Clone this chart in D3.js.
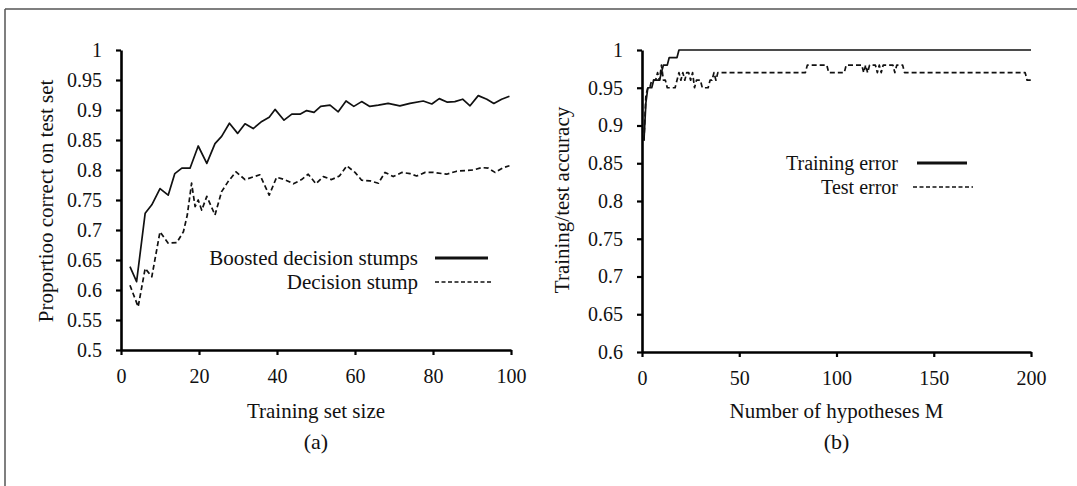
<!DOCTYPE html>
<html><head><meta charset="utf-8">
<script src="https://cdn.jsdelivr.net/npm/d3@7"></script>
<style>
body{margin:0;background:#fff}
text{font-family:"Liberation Serif","Times New Roman",serif;fill:#111}
</style>
</head><body>
<svg id="c" width="1077" height="486"></svg>
<script>
// ---- Panel (a) data ----
const sizeBoosted = [2.3,4,6.2,7.9,10,12.1,13.8,15.6,17.7,19.8,22,24.1,25.8,27.8,29.9,31.8,33.9,36.1,38,39.5,41.8,43.8,45.9,47.6,49.5,51.2,53.6,55.7,57.7,59.7,61.7,63.8,66,68.5,71.5,74.1,77.5,79.7,81.6,83.7,85.6,87.6,89.5,91.6,93.8,95.6,97.6,99.6];
const boosted = [0.639,0.614,0.728,0.742,0.769,0.758,0.794,0.803,0.803,0.84,0.811,0.844,0.856,0.878,0.861,0.877,0.869,0.881,0.888,0.901,0.883,0.893,0.893,0.899,0.896,0.906,0.908,0.897,0.915,0.906,0.914,0.906,0.908,0.911,0.907,0.911,0.915,0.91,0.919,0.913,0.914,0.918,0.907,0.924,0.918,0.911,0.918,0.923];
const sizeStump = [2.3,4.4,6.2,7.9,10,12.1,14.3,16,17,18.1,19,19.8,20.7,22,24.1,25.8,27.5,29.5,31.8,35.6,38,39.9,42,44.2,46.3,48,50,51.9,54,56,57.9,60,61.7,63.8,66,67.7,69.8,72,74.1,75.8,78,80.1,83.5,86.1,88.2,90.3,92.5,94.2,95.9,98,99.6];
const stump = [0.608,0.572,0.636,0.622,0.697,0.678,0.679,0.697,0.725,0.778,0.739,0.75,0.733,0.756,0.725,0.764,0.781,0.797,0.784,0.792,0.758,0.788,0.784,0.777,0.784,0.793,0.777,0.789,0.784,0.79,0.807,0.796,0.783,0.782,0.778,0.796,0.789,0.796,0.794,0.79,0.796,0.796,0.793,0.798,0.799,0.8,0.804,0.803,0.796,0.804,0.807];
const yTicksA = [0.5,0.55,0.6,0.65,0.7,0.75,0.8,0.85,0.9,0.95,1];
const xTicksA = [0,20,40,60,80,100];

// ---- Panel (b) data ----
const trainM = [1,2,3,5,6,9,10,11,13,14,18,19,200];
const trainAcc = [0.88,0.93,0.95,0.95,0.96,0.96,0.97,0.98,0.98,0.99,0.99,1,1];
const testM = [1,2,3,4,5,7,8,9,10,11,12,13,17,18,19,20,21,22,23,24,25,26,27,28,30,31,34,35,36,37,38,39,84,85,95,96,104,105,113,114,115,116,117,120,121,122,123,124,129,130,131,134,135,197,198,200];
const testAcc = [0.88,0.94,0.95,0.95,0.96,0.96,0.97,0.96,0.98,0.96,0.96,0.95,0.95,0.96,0.97,0.96,0.97,0.96,0.97,0.97,0.96,0.97,0.95,0.96,0.96,0.95,0.95,0.96,0.96,0.97,0.96,0.97,0.97,0.98,0.98,0.97,0.97,0.98,0.98,0.97,0.98,0.97,0.98,0.98,0.97,0.98,0.97,0.98,0.98,0.97,0.98,0.98,0.97,0.97,0.96,0.96];
const yTicksB = [0.6,0.65,0.7,0.75,0.8,0.85,0.9,0.95,1];
const xTicksB = [0,50,100,150,200];

const svg = d3.select("#c");

// frame
svg.append("line").attr("x1",5).attr("x2",1077).attr("y1",9).attr("y2",9).attr("stroke","#555").attr("stroke-width",1.5);
svg.append("line").attr("x1",5).attr("x2",5).attr("y1",9).attr("y2",486).attr("stroke","#555").attr("stroke-width",1.5);

function panel(cfg){
  const x = d3.scaleLinear().domain(cfg.xDom).range([cfg.x0,cfg.x1]);
  const y = d3.scaleLinear().domain(cfg.yDom).range([cfg.y0,cfg.y1]);
  const g = svg.append("g");
  const ax = g.append("g").attr("transform",`translate(0,${cfg.y0})`)
    .call(d3.axisBottom(x).tickValues(cfg.xTicks).tickSize(5).tickSizeOuter(0).tickPadding(14).tickFormat(d=>String(d)));
  const ay = g.append("g").attr("transform",`translate(${cfg.x0},0)`)
    .call(d3.axisLeft(y).tickValues(cfg.yTicks).tickSize(5).tickSizeOuter(0).tickPadding(14).tickFormat(d=>String(d)));
  [ax,ay].forEach(a=>{
    a.select(".domain").attr("stroke","#000").attr("stroke-width",2.6);
    a.selectAll(".tick line").attr("stroke","#000").attr("stroke-width",2.2);
    a.selectAll(".tick text").attr("font-size",20).attr("font-family","Liberation Serif").attr("fill","#111");
  });
  const line = d3.line().x(d=>x(d[0])).y(d=>y(d[1]));
  cfg.series.forEach(s=>{
    g.append("path").datum(d3.zip(s.xs,s.ys)).attr("d",line)
      .attr("fill","none").attr("stroke","#111").attr("stroke-width",1.7)
      .attr("stroke-linejoin","round")
      .attr("stroke-dasharray",s.dash||null);
  });
  // legend
  cfg.legend.forEach(l=>{
    g.append("text").attr("x",l.tx).attr("y",l.ty).attr("text-anchor","end").attr("dy","0.35em")
      .attr("font-size",cfg.legendSize).text(l.label);
    g.append("line").attr("x1",l.lx1).attr("x2",l.lx2).attr("y1",l.ty).attr("y2",l.ty)
      .attr("stroke","#111").attr("stroke-width",l.dash?1.5:3).attr("stroke-dasharray",l.dash||null);
  });
  // titles
  const cx = (cfg.x0+cfg.x1)/2;
  g.append("text").attr("x",cx).attr("y",411).attr("text-anchor","middle").attr("dy","0.35em").attr("font-size",21).text(cfg.xTitle);
  g.append("text").attr("x",cx).attr("y",441).attr("text-anchor","middle").attr("dy","0.35em").attr("font-size",22).text(cfg.tag);
  g.append("text").attr("transform",`translate(${cfg.yTitleX},${cfg.yTitleY}) rotate(-90)`)
    .attr("text-anchor","middle").attr("dy","0.35em").attr("font-size",21).text(cfg.yTitle);
}

panel({
  xDom:[0,100], yDom:[0.5,1], x0:121, x1:511, y0:350, y1:50,
  xTicks:xTicksA, yTicks:yTicksA, legendSize:21,
  series:[{xs:sizeBoosted, ys:boosted},{xs:sizeStump, ys:stump, dash:"5,3"}],
  legend:[
    {label:"Boosted decision stumps", tx:418, ty:258, lx1:435, lx2:488},
    {label:"Decision stump", tx:418, ty:282, lx1:435, lx2:492, dash:"4,2.5"}
  ],
  xTitle:"Training set size", tag:"(a)", yTitle:"Proportioo correct on test set", yTitleX:46, yTitleY:201
});

panel({
  xDom:[0,200], yDom:[0.6,1], x0:642, x1:1031, y0:352, y1:50,
  xTicks:xTicksB, yTicks:yTicksB, legendSize:20,
  series:[{xs:trainM, ys:trainAcc},{xs:testM, ys:testAcc, dash:"5,3"}],
  legend:[
    {label:"Training error", tx:898, ty:163, lx1:917, lx2:967},
    {label:"Test error", tx:898, ty:187, lx1:913, lx2:973, dash:"4,2.5"}
  ],
  xTitle:"Number of hypotheses M", tag:"(b)", yTitle:"Training/test accuracy", yTitleX:562, yTitleY:200
});
</script>
</body></html>
